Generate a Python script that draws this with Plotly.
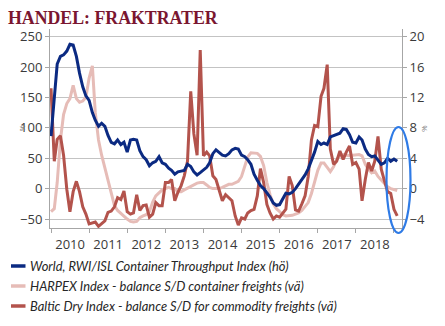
import pandas as pd
import plotly.graph_objects as go

# ---------------- data (monthly, starting Jan 2010) ----------------
start_month = "2010-01-01"

# World, RWI/ISL Container Throughput Index, y/y % (right axis)
rwi_isl = [6.9, 12.0, 16.4, 17.4, 17.6, 18.1, 19.0, 18.9, 17.4, 15.2, 13.4, 12.2,
           11.6, 10.0, 9.0, 8.2, 8.6, 8.2, 7.0, 6.1, 5.9, 6.4, 5.8, 6.1,
           4.8, 6.4, 6.5, 6.4, 5.0, 4.2, 3.8, 3.0, 3.4, 3.6, 4.2, 3.4,
           3.2, 2.7, 2.4, 1.9, 2.2, 2.3, 2.4, 3.2, 2.9, 2.2, 1.8, 2.1,
           2.5, 2.8, 3.4, 4.6, 5.1, 4.8, 4.4, 4.3, 4.6, 5.1, 5.3, 5.2,
           4.4, 4.2, 3.8, 3.2, 1.9, 1.1, 0.4, 0.0, -0.5, -1.1, -1.9, -2.2,
           -2.1, -1.4, -0.6, -0.7, -0.5, 0.0, 0.6, 1.1, 1.8, 2.6, 3.7, 4.8,
           6.2, 5.8, 6.0, 5.8, 6.8, 7.0, 7.1, 7.3, 7.9, 7.8, 7.1, 6.1,
           6.0, 6.8, 6.4, 5.2, 4.5, 4.2, 4.3, 3.8, 3.2, 3.4, 4.0, 3.6,
           3.9, 3.6]

# HARPEX Index - balance S/D container freights (left axis)
harpex = [-38, -33, 10, 80, 122, 140, 148, 170, 148, 142, 144, 150,
          182, 202, 125, 80, 55, 35, 12, -8, -28, -36, -41, -45,
          -50, -54, -55, -54, -48, -45, -43, -38, -22, -12, -7, -2,
          0, 2, 0, 0, -5, -5, -2, 1, 4, 7, 9, 10,
          10, 6, 2, 0, 0, 0, 2, 5, 7, 7, 9, 12,
          20, 36, 52, 59, 58, 58, 53, 38, 10, -10, -25, -33,
          -38, -43, -45, -45, -44, -42, -40, -36, -30, -23, -8, 10,
          30, 42, 42, 35, 28, 36, 48, 54, 56, 55, 54, 55,
          56, 56, 54, 40, 32, 26, 29, 20, 14, 8, 3, 0,
          -2, -3]

# Baltic Dry Index - balance S/D for commodity freights (left axis)
baltic_dry = [165, 45, 81, 87, 55, -1, -38, -5, 12, -5, -30, -42,
              -58, -57, -55, -62, -58, -53, -39, -37, -30, -15, -18, -4,
              -38, -42, -40, -10, -36, -28, -27, -47, -42, -23, -28, -28,
              10, 10, 15, -20, -6, 5, 21, 45, 160, 90, 55, 228,
              54, 60, 54, 21, 15, -5, -20, -10, -15, -20, -45, -60,
              -48, -50, -40, -36, -34, -12, 33, 10, -26, -40, -50, -45,
              -47, -40, -34, 20, 5, -35, -37, -25, -12, 20, 80, 104,
              102, 152, 165, 204, 65, 40, 45, 62, 48, 60, 70, 40,
              43, 32, -20, 15, 43, 29, 45, 86, 32, 13, -5, -8,
              -34, -45]

year_labels_fmt = "%Y"
left_ticks = [-50, 0, 50, 100, 150, 200, 250]
right_ticks = [-4, 0, 4, 8, 12, 16, 20]

names = [
    "World, RWI/ISL Container Throughput Index (hö)",
    "HARPEX Index - balance S/D container freights (vä)",
    "Baltic Dry Index - balance S/D for commodity freights (vä)",
]
colors = ["#0b2a82", "#e6bcb7", "#b3534c"]

# ---------------- figure ----------------
def months(n):
    return pd.date_range(start=start_month, periods=n, freq="MS")

W, H = 445, 326
ML, MR, MT, MB = 50, 43, 29, 98
PW, PH = W - ML - MR, H - MT - MB

def px_x(x):
    return (x - ML) / PW

def px_y(y):
    return (H - MB - y) / PH

fig = go.Figure()
fig.add_trace(go.Scatter(x=months(len(harpex)), y=harpex, mode="lines",
                         line=dict(color=colors[1], width=3), name=names[1],
                         showlegend=False, yaxis="y"))
fig.add_trace(go.Scatter(x=months(len(baltic_dry)), y=baltic_dry, mode="lines",
                         line=dict(color=colors[2], width=3), name=names[2],
                         showlegend=False, yaxis="y"))
fig.add_trace(go.Scatter(x=months(len(rwi_isl)), y=rwi_isl, mode="lines",
                         line=dict(color=colors[0], width=3), name=names[0],
                         showlegend=False, yaxis="y2"))

left_range = [-64.8, 262.6]
ratio = 250 / 20
right_range = [left_range[0] / ratio, left_range[1] / ratio]

tick_font = dict(family="Open Sans", size=13, color="#3a3a3a")
grid_c = "#c3c3c3"

fig.update_layout(
    width=W, height=H,
    margin=dict(l=ML, r=MR, t=MT, b=MB),
    paper_bgcolor="white", plot_bgcolor="white",
    title=dict(text="HANDEL: FRAKTRATER", x=8 / W, xanchor="left", xref="container",
               y=1 - 17.8 / H, yanchor="middle", yref="container",
               font=dict(family="Liberation Serif", size=17.8, color="#7a1630", weight="bold")),
    xaxis=dict(type="date", range=["2009-12-22", "2019-03-19"],
               dtick="M12", tick0="2010-01-01", tickformat=year_labels_fmt,
               ticklabelmode="period", ticks="outside", ticklen=4, tickcolor="#a6a6a6",
               showline=True, linecolor="#a6a6a6", linewidth=1,
               showgrid=False, tickfont=tick_font, zeroline=False),
    yaxis=dict(range=left_range, tickvals=left_ticks, ticks="outside", ticklen=4,
               tickcolor="#a6a6a6", showline=True, linecolor="#a6a6a6",
               gridcolor=grid_c, gridwidth=1, zeroline=False, tickfont=tick_font),
    yaxis2=dict(range=right_range, tickvals=right_ticks, overlaying="y", side="right",
                ticks="outside", ticklen=4, tickcolor="#a6a6a6", showline=True,
                linecolor="#a6a6a6", showgrid=False, zeroline=False, tickfont=tick_font),
    showlegend=False,
)

# axis unit labels
for xp, ang in [(13.5, -90), (431, -90)]:
    fig.add_annotation(x=px_x(xp), y=px_y(128.5), xref="paper", yref="paper",
                       text="%", showarrow=False, textangle=ang,
                       font=dict(family="Open Sans", size=8, color="#7f7f7f"))

# highlight ellipse
fig.add_shape(type="circle", xref="paper", yref="paper",
              x0=px_x(386.5), x1=px_x(410.5), y0=px_y(233), y1=px_y(127),
              line=dict(color="#2f7be6", width=2.2))

# manual legend
legend_rows = [266, 286, 306]
order = [0, 1, 2]
for row_y, i in zip(legend_rows, order):
    fig.add_shape(type="line", xref="paper", yref="paper",
                  x0=px_x(11), x1=px_x(25.5), y0=px_y(row_y), y1=px_y(row_y),
                  line=dict(color=colors[i], width=3.5))
    fig.add_annotation(x=px_x(28), y=px_y(row_y), xref="paper", yref="paper",
                       text=names[i], showarrow=False, xanchor="left", yanchor="middle",
                       font=dict(family="Lato", size=12.9, color="#262626", style="italic"))

fig.write_html("out.html")
